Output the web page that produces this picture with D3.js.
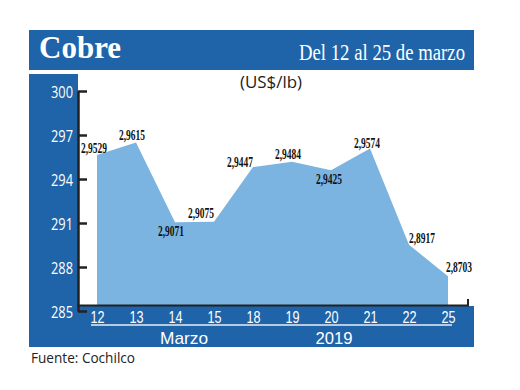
<!DOCTYPE html>
<html>
<head>
<meta charset="utf-8">
<script src="https://cdn.jsdelivr.net/npm/d3@7"></script>
<style>
  body { margin: 0; background: #fff; }
  svg { display: block; }
</style>
</head>
<body>
<svg id="chart" width="520" height="390"></svg>
<script>
// Data
var days = ['12', '13', '14', '15', '18', '19', '20', '21', '22', '25']
var prices = [2.9529, 2.9615, 2.9071, 2.9075, 2.9447, 2.9484, 2.9425, 2.9574, 2.8917, 2.8703]
var price_labels = ['2,9529', '2,9615', '2,9071', '2,9075', '2,9447', '2,9484', '2,9425', '2,9574', '2,8917', '2,8703']
var y_ticks = [285, 288, 291, 294, 297, 300]
var title = 'Cobre'
var subtitle = 'Del 12 al 25 de marzo'
var unit_label = '(US$/lb)'
var month_label = 'Marzo'
var year_label = '2019'
var source_label = 'Fuente: Cochilco'

var blue = '#1f64a8'
var area_blue = '#7bb4e0'

var svg = d3.select('#chart')

// Frame pieces
svg.append('rect').attr('x', 29).attr('y', 30).attr('width', 445).attr('height', 40).attr('fill', blue)
svg.append('rect').attr('x', 29).attr('y', 74).attr('width', 49).attr('height', 273).attr('fill', blue)
svg.append('rect').attr('x', 29).attr('y', 306).attr('width', 445).attr('height', 41).attr('fill', blue)

svg.append('text')
  .text(title)
  .attr('x', 39)
  .attr('y', 58)
  .attr('fill', '#fff')
  .style('font-family', 'Liberation Serif')
  .style('font-weight', 'bold')
  .style('font-size', '31px')

svg.append('text')
  .text(subtitle)
  .attr('x', 465)
  .attr('y', 60)
  .attr('text-anchor', 'end')
  .attr('textLength', 166)
  .attr('lengthAdjust', 'spacingAndGlyphs')
  .attr('fill', '#fff')
  .style('font-family', 'Liberation Serif')
  .style('font-size', '23px')

svg.append('text')
  .text(unit_label)
  .attr('x', 271)
  .attr('y', 88)
  .attr('text-anchor', 'middle')
  .attr('textLength', 62)
  .attr('lengthAdjust', 'spacingAndGlyphs')
  .attr('fill', '#222')
  .style('font-family', 'Open Sans')
  .style('font-size', '17px')

// Scales
var x = d3.scalePoint().domain(days).range([97, 448])
var y = d3.scaleLinear().domain([285, 300]).range([306, 86])

var series = days.map((d, i) => ({ day: d, value: prices[i] * 100, label: price_labels[i] }))

// Area
var area = d3.area()
  .x(d => x(d.day))
  .y0(y(285))
  .y1(d => y(d.value))

svg.append('path')
  .datum(series)
  .attr('d', area)
  .attr('fill', area_blue)

// Bottom axis line
svg.append('path')
  .attr('d', d3.line()([[77, 305.5], [468, 305.5], [468, 299]]))
  .attr('fill', 'none')
  .attr('stroke', '#222')
  .attr('stroke-width', 2)

// Y axis (the printed axis sits a few px below the plotted scale)
var y_axis = svg.append('g')
  .attr('transform', 'translate(78,5)')
  .call(d3.axisLeft(y).tickValues(y_ticks).tickSizeInner(-9).tickSizeOuter(0).tickPadding(5))

y_axis.select('.domain').attr('stroke', '#222').attr('stroke-width', 2.5)
y_axis.selectAll('.tick line').attr('stroke', '#222').attr('stroke-width', 2.5)
y_axis.selectAll('.tick text')
  .attr('fill', '#fff')
  .attr('dy', '0.36em')
  .attr('textLength', 22)
  .attr('lengthAdjust', 'spacingAndGlyphs')
  .style('font-family', 'Open Sans')
  .style('font-size', '17px')

// X axis labels
var x_axis = svg.append('g')
  .attr('transform', 'translate(0,306)')
  .call(d3.axisBottom(x).tickSize(0).tickPadding(6))

x_axis.select('.domain').remove()
x_axis.selectAll('.tick text')
  .attr('fill', '#fff')
  .attr('dy', '0.71em')
  .attr('textLength', 14)
  .attr('lengthAdjust', 'spacingAndGlyphs')
  .style('font-family', 'Liberation Sans')
  .style('font-size', '16px')

svg.append('line')
  .attr('x1', 91).attr('x2', 452)
  .attr('y1', 325).attr('y2', 325)
  .attr('stroke', '#e8eef6')
  .attr('stroke-width', 1.5)

svg.append('text')
  .text(month_label)
  .attr('x', 184)
  .attr('y', 344)
  .attr('text-anchor', 'middle')
  .attr('textLength', 48)
  .attr('lengthAdjust', 'spacingAndGlyphs')
  .attr('fill', '#fff')
  .style('font-family', 'Liberation Sans')
  .style('font-size', '17px')

svg.append('text')
  .text(year_label)
  .attr('x', 334)
  .attr('y', 344)
  .attr('text-anchor', 'middle')
  .attr('textLength', 37)
  .attr('lengthAdjust', 'spacingAndGlyphs')
  .attr('fill', '#fff')
  .style('font-family', 'Liberation Sans')
  .style('font-size', '17px')

// Value labels, nudged like the original
var label_nudge = [[-3, -7], [-4, -7], [-4, 9], [-13, -9], [-13, -5], [-4, -8], [-2, 9], [-3, -5], [13, -7], [11, -9]]

svg.append('g')
  .selectAll('text')
  .data(series)
  .join('text')
  .text(d => d.label)
  .attr('x', (d, i) => x(d.day) + label_nudge[i][0])
  .attr('y', (d, i) => y(d.value) + label_nudge[i][1])
  .attr('dy', '0.35em')
  .attr('text-anchor', 'middle')
  .attr('textLength', 26)
  .attr('lengthAdjust', 'spacingAndGlyphs')
  .attr('fill', '#111')
  .style('font-family', 'Liberation Serif')
  .style('font-weight', 'bold')
  .style('font-size', '14px')

svg.append('text')
  .text(source_label)
  .attr('x', 31)
  .attr('y', 363)
  .attr('textLength', 104)
  .attr('lengthAdjust', 'spacingAndGlyphs')
  .attr('fill', '#222')
  .style('font-family', 'Open Sans')
  .style('font-size', '14px')
</script>
</body>
</html>
